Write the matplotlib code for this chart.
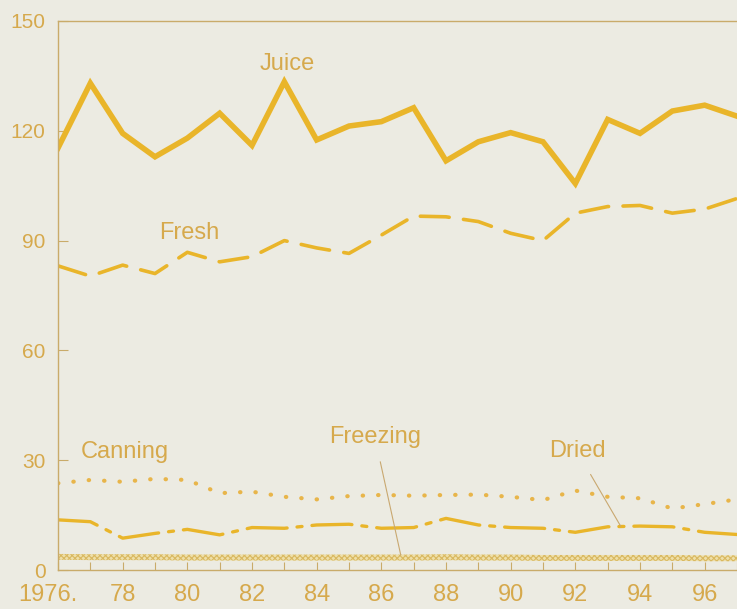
import matplotlib
matplotlib.use("Agg")
import matplotlib.pyplot as plt
import matplotlib.transforms as mtransforms

# per capita use by type, 1976-97 (last year is cut off at the right edge)
years = list(range(1976, 1998))
juice = [115.3, 133.0, 119.3, 112.9, 118.0, 124.8, 116.0, 133.4, 117.5, 121.3, 122.5,
         126.3, 111.8, 117.0, 119.5, 117.0, 105.6, 123.1, 119.3, 125.4, 127.0, 124.0]
fresh = [83.1, 80.3, 83.3, 81.0, 86.8, 84.2, 85.6, 90.0, 88.0, 86.5, 91.5,
         96.7, 96.5, 95.2, 92.0, 90.0, 97.5, 99.3, 99.6, 97.5, 98.6, 101.5]
canning = [23.7, 24.6, 24.1, 24.9, 24.6, 21.0, 21.4, 20.0, 19.3, 20.2, 20.5,
           20.3, 20.5, 20.6, 20.0, 19.1, 21.7, 20.0, 19.6, 16.8, 18.0, 19.3]
dried = [13.7, 13.2, 8.7, 10.0, 11.1, 9.6, 11.6, 11.4, 12.3, 12.5, 11.4,
         11.6, 14.1, 12.3, 11.6, 11.4, 10.3, 11.8, 12.0, 11.8, 10.3, 9.7]
freezing = [3.6, 3.5, 3.5, 3.5, 3.4, 3.4, 3.4, 3.4, 3.4, 3.4, 3.4,
            3.4, 3.5, 3.4, 3.4, 3.3, 3.3, 3.3, 3.3, 3.3, 3.2, 3.2]

xtick_pos = list(range(1976, 1997, 2))
xtick_labels = ["1976."] + ["%02d" % (y % 100) for y in xtick_pos[1:]]
ytick_pos = [0, 30, 60, 90, 120, 150]

bg = "#ecebe2"
line_c = "#e9b52a"
text_c = "#d6a94c"
axis_c = "#c9ab6a"

plt.rcParams["font.family"] = ["Liberation Sans", "DejaVu Sans"]
plt.rcParams["hatch.color"] = "#d9b860"
plt.rcParams["hatch.linewidth"] = 0.8

fig = plt.figure(figsize=(7.37, 6.09), dpi=100, facecolor=bg)
ax = fig.add_axes([58 / 737, 1 - 570 / 609, 1 - 58 / 737, (570 - 21) / 609])
ax.set_facecolor(bg)

ax.plot(years, juice, color=line_c, lw=4.0, solid_joinstyle="miter")
ax.plot(years, fresh, color=line_c, lw=2.6, dashes=(8, 4), dash_capstyle="round")
ax.plot(years, canning, color="#e8b54a", lw=3.0, dashes=(0.1, 3.6), dash_capstyle="round")
ax.plot(years, dried, color=line_c, lw=2.4, dashes=(12, 3, 1.5, 3), dash_capstyle="round")
lo = [v - 0.8 for v in freezing]
hi = [v + 0.8 for v in freezing]
ax.fill_between(years, lo, hi, facecolor="#eedfa8", edgecolor="#d9b860",
                hatch="xxxxxx", lw=0)

# series labels
fs = 17
ax.text(1983.1, 138.3, "Juice", color=text_c, fontsize=fs, ha="center", va="center")
ax.text(1980.07, 92.1, "Fresh", color=text_c, fontsize=fs, ha="center", va="center")
ax.text(1978.07, 32.2, "Canning", color=text_c, fontsize=fs, ha="center", va="center")
ax.annotate("Freezing", xy=(1986.6, 4.1), xytext=(1985.8, 36.3), color=text_c,
            fontsize=fs, ha="center", va="center",
            arrowprops=dict(arrowstyle="-", color="#c9a870", lw=0.8, shrinkA=8, shrinkB=0))
ax.annotate("Dried", xy=(1993.4, 12.0), xytext=(1992.05, 32.5), color=text_c,
            fontsize=fs, ha="center", va="center",
            arrowprops=dict(arrowstyle="-", color="#c9a870", lw=0.8, shrinkA=8, shrinkB=0))

ax.set_xlim(1976, 1976 + (737 - 58) / 32.4)
ax.set_ylim(0, 150)

ax.set_yticks(ytick_pos)
ax.set_yticklabels([str(v) for v in ytick_pos])
ax.set_xticks(years, minor=True)
ax.set_xticks(xtick_pos)
ax.set_xticklabels(xtick_labels)
ax.tick_params(axis="both", which="both", direction="in", color=axis_c,
               labelcolor=text_c, width=0.8)
ax.tick_params(axis="y", length=7, pad=9, labelsize=15)
ax.tick_params(axis="x", which="both", length=6, pad=10, labelsize=17)

# the first year label sits a bit left of its tick
first = ax.get_xticklabels()[0]
first.set_transform(first.get_transform() + mtransforms.ScaledTranslation(-0.1, 0, fig.dpi_scale_trans))

for side in ["left", "bottom", "top"]:
    ax.spines[side].set_color(axis_c)
    ax.spines[side].set_linewidth(1.0)
ax.spines["right"].set_visible(False)

fig.savefig("out.png", dpi=100, facecolor=bg)
